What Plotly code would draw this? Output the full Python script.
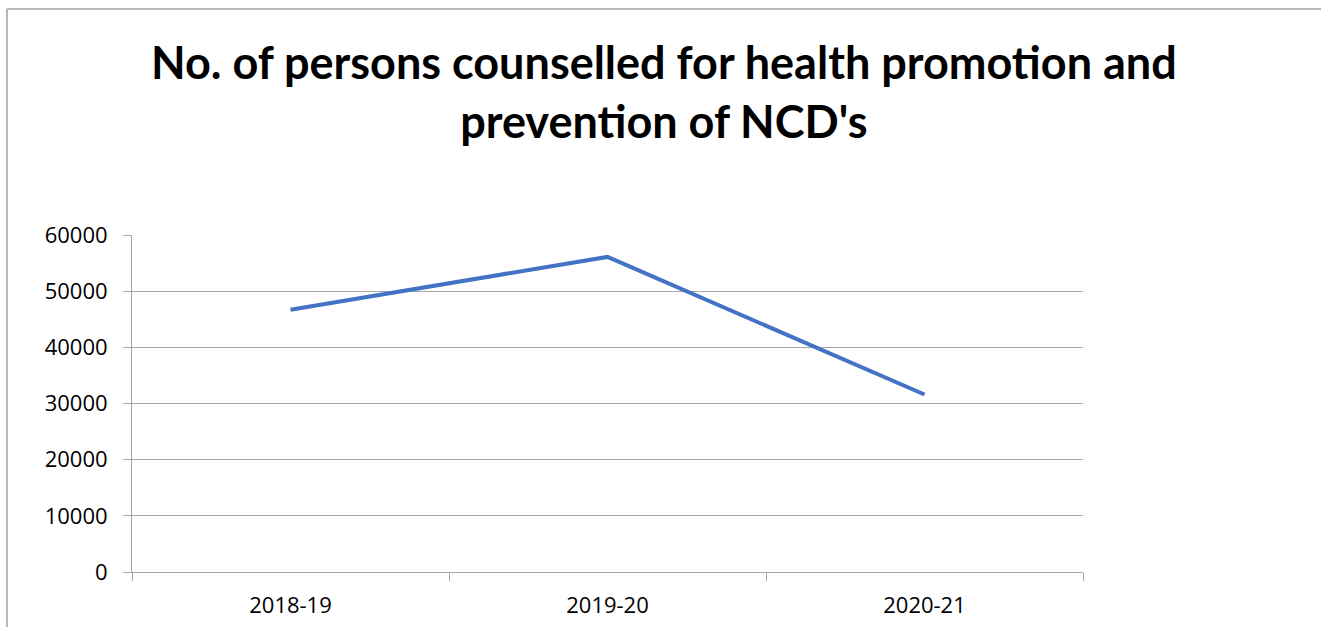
import plotly.graph_objects as go

categories = ["2018-19", "2019-20", "2020-21"]
persons_counselled = [46700, 56100, 31600]
y_ticks = [0, 10000, 20000, 30000, 40000, 50000, 60000]
title_text = "No. of persons counselled for health promotion and<br>prevention of NCD's"

W, H = 1321, 627
L, R, T, B = 132, 238, 235, 55
pw, ph = W - L - R, H - T - B

def px_x(x):
    return (x - L) / pw

def px_y(y):
    return (H - B - y) / ph

fig = go.Figure()
fig.add_trace(go.Scatter(
    x=categories, y=persons_counselled, mode="lines",
    line=dict(color="#4472C4", width=4), hoverinfo="x+y",
))

grid = "#a6a6a6"
fig.update_layout(
    width=W, height=H,
    margin=dict(l=L, r=R, t=T, b=B, pad=0, autoexpand=False),
    paper_bgcolor="white", plot_bgcolor="white",
    showlegend=False,
    font=dict(family="Open Sans, sans-serif", size=22, color="#000000"),
    xaxis=dict(
        type="category", range=[-0.5, 2.5], tickson="boundaries",
        ticks="outside", ticklen=8, tickcolor=grid, tickwidth=1,
        showline=True, linecolor=grid, linewidth=1,
        showgrid=False, zeroline=False, fixedrange=True,
        ticklabelstandoff=14, automargin=False,
    ),
    yaxis=dict(
        range=[0, 60000], tickvals=y_ticks, ticktext=[str(v) for v in y_ticks],
        ticks="outside", ticklen=8, tickcolor=grid, tickwidth=1,
        showline=True, linecolor=grid, linewidth=1,
        showgrid=True, gridcolor=grid, gridwidth=1,
        zeroline=False, fixedrange=True, ticklabelstandoff=11, automargin=False,
    ),
    annotations=[
        dict(text="<b>" + title_text + "</b>", xref="paper", yref="paper",
             x=px_x(664), y=px_y(92), xanchor="center", yanchor="middle",
             showarrow=False, align="center",
             font=dict(family="Lato, sans-serif", size=45, color="#000000")),
    ],
    shapes=[
        dict(type="line", xref="paper", yref="paper",
             x0=px_x(7), x1=px_x(7), y0=px_y(9), y1=px_y(H + 5),
             line=dict(color="#a0a0a0", width=1.5)),
        dict(type="line", xref="paper", yref="paper",
             x0=px_x(7), x1=px_x(W + 5), y0=px_y(9), y1=px_y(9),
             line=dict(color="#a0a0a0", width=1.5)),
    ],
)

fig.write_html("out.html")
